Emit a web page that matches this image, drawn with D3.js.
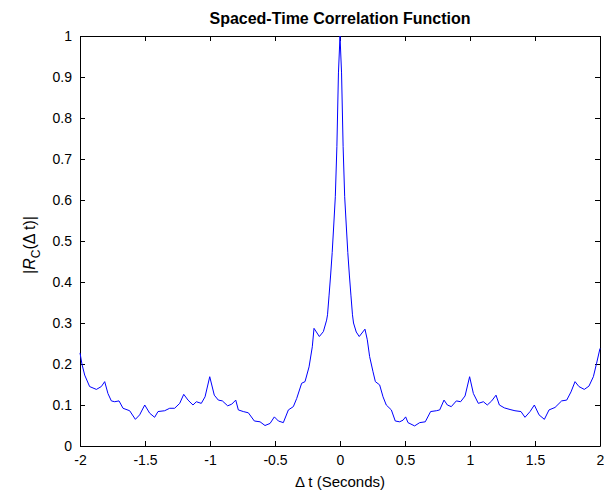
<!DOCTYPE html>
<html>
<head>
<meta charset="utf-8">
<script src="https://cdn.jsdelivr.net/npm/d3@7"></script>
<style>
  body { margin: 0; background: #fff; }
  text { font-family: "Liberation Sans", Arial, sans-serif; }
</style>
</head>
<body>
<div id="chart"></div>
<script>
// Time lag (seconds) and correlation magnitude
const lags = [
  -2.0, -1.985, -1.964, -1.926, -1.874, -1.836, -1.81, -1.785, -1.759, -1.733,
  -1.70, -1.669, -1.618, -1.574, -1.541, -1.502, -1.464, -1.426, -1.40, -1.349,
  -1.31, -1.272, -1.233, -1.202, -1.169, -1.131, -1.105, -1.067, -1.038, -1.002,
  -0.967, -0.936, -0.905, -0.864, -0.833, -0.802, -0.782, -0.744, -0.705, -0.659,
  -0.615, -0.577, -0.538, -0.505, -0.474, -0.436, -0.397, -0.359, -0.333, -0.295,
  -0.269, -0.238, -0.213, -0.200, -0.159, -0.128, -0.103, -0.096, -0.084, -0.072,
  -0.060, -0.048, -0.036, -0.024, -0.012, 0,
  0.012, 0.024, 0.036, 0.048, 0.060, 0.072, 0.084, 0.096, 0.104, 0.125,
  0.148, 0.192, 0.21, 0.228, 0.254, 0.272, 0.305, 0.331, 0.356, 0.395,
  0.425, 0.459, 0.485, 0.505, 0.523, 0.574, 0.613, 0.656, 0.697, 0.741,
  0.767, 0.80, 0.826, 0.856, 0.895, 0.928, 0.962, 0.997, 1.026, 1.064,
  1.103, 1.133, 1.167, 1.20, 1.226, 1.264, 1.308, 1.346, 1.392, 1.423,
  1.462, 1.495, 1.531, 1.572, 1.608, 1.654, 1.705, 1.744, 1.777, 1.808,
  1.838, 1.879, 1.915, 1.949, 1.974, 2.0
];
const corr = [
  0.227, 0.200, 0.173, 0.145, 0.138, 0.145, 0.157, 0.128, 0.110, 0.108,
  0.110, 0.092, 0.086, 0.065, 0.076, 0.100, 0.080, 0.070, 0.084, 0.086,
  0.092, 0.092, 0.104, 0.126, 0.112, 0.100, 0.108, 0.104, 0.120, 0.169,
  0.124, 0.112, 0.110, 0.098, 0.102, 0.112, 0.088, 0.084, 0.081, 0.061,
  0.059, 0.050, 0.055, 0.071, 0.061, 0.057, 0.088, 0.096, 0.116, 0.153,
  0.157, 0.193, 0.242, 0.287, 0.267, 0.279, 0.307, 0.320, 0.368, 0.417,
  0.472, 0.539, 0.608, 0.730, 0.910, 1.0,
  0.910, 0.730, 0.608, 0.539, 0.472, 0.417, 0.368, 0.320, 0.300, 0.278,
  0.267, 0.285, 0.259, 0.218, 0.181, 0.157, 0.149, 0.120, 0.100, 0.088,
  0.061, 0.059, 0.063, 0.071, 0.057, 0.049, 0.057, 0.059, 0.084, 0.086,
  0.088, 0.112, 0.100, 0.096, 0.110, 0.108, 0.122, 0.169, 0.128, 0.104,
  0.108, 0.100, 0.110, 0.124, 0.100, 0.093, 0.089, 0.086, 0.084, 0.070,
  0.084, 0.100, 0.076, 0.065, 0.088, 0.094, 0.110, 0.112, 0.132, 0.157,
  0.145, 0.138, 0.146, 0.169, 0.202, 0.238
];
const xTicks = [-2, -1.5, -1, -0.5, 0, 0.5, 1, 1.5, 2];
const yTicks = [0, 0.1, 0.2, 0.3, 0.4, 0.5, 0.6, 0.7, 0.8, 0.9, 1];

const fullWidth = 604, fullHeight = 490;
const margin = { top: 36, right: 4, bottom: 44, left: 80 };
const width = fullWidth - margin.left - margin.right;
const height = fullHeight - margin.top - margin.bottom;

const svg = d3.select("#chart")
  .append("svg")
  .attr("width", fullWidth)
  .attr("height", fullHeight);

const g = svg.append("g")
  .attr("transform", `translate(${margin.left},${margin.top})`);

const x = d3.scaleLinear().domain([-2, 2]).range([0, width]);
const y = d3.scaleLinear().domain([0, 1]).range([height, 0]);

const fmt = d => String(d);

// Axes with inward ticks on all four sides
const xAxis = g.append("g")
  .attr("transform", `translate(0,${height})`)
  .call(d3.axisBottom(x).tickValues(xTicks).tickFormat(fmt).tickSizeInner(-5).tickSizeOuter(0).tickPadding(9));
const xTop = g.append("g")
  .call(d3.axisTop(x).tickValues(xTicks).tickFormat("").tickSizeInner(-5).tickSizeOuter(0));
const yAxis = g.append("g")
  .call(d3.axisLeft(y).tickValues(yTicks).tickFormat(fmt).tickSizeInner(-5).tickSizeOuter(0).tickPadding(8));
const yRight = g.append("g")
  .attr("transform", `translate(${width},0)`)
  .call(d3.axisRight(y).tickValues(yTicks).tickFormat("").tickSizeInner(-5).tickSizeOuter(0));

[xAxis, xTop, yAxis, yRight].forEach(a => {
  a.select(".domain").attr("stroke", "#000");
  a.selectAll(".tick line").attr("stroke", "#000");
  a.selectAll("text")
    .attr("fill", "#000")
    .style("font-size", "14px")
    .style("font-family", "'Liberation Sans', Arial, sans-serif");
});

// The curve
const points = lags.map((t, i) => ({ t, r: corr[i] }));
const line = d3.line()
  .x(d => x(d.t))
  .y(d => y(d.r));

g.append("path")
  .datum(points)
  .attr("fill", "none")
  .attr("stroke", "#0000ff")
  .attr("stroke-width", 1)
  .attr("d", line);

// Title
svg.append("text")
  .attr("x", margin.left + width / 2)
  .attr("y", 24)
  .attr("text-anchor", "middle")
  .style("font-size", "16px")
  .style("font-weight", "bold")
  .text("Spaced-Time Correlation Function");

// X label
svg.append("text")
  .attr("x", margin.left + width / 2)
  .attr("y", 487)
  .attr("text-anchor", "middle")
  .style("font-size", "15px")
  .text("\u0394 t (Seconds)");

// Y label
const yLab = svg.append("text")
  .attr("transform", `translate(35,${margin.top + height / 2 + 4}) rotate(-90)`)
  .attr("text-anchor", "middle")
  .style("font-size", "16px");
yLab.append("tspan").text("|");
yLab.append("tspan").style("font-style", "italic").text("R");
yLab.append("tspan").attr("dy", 5).style("font-size", "12px").text("C");
yLab.append("tspan").attr("dy", -5).text("(\u0394 t)|");
</script>
</body>
</html>
